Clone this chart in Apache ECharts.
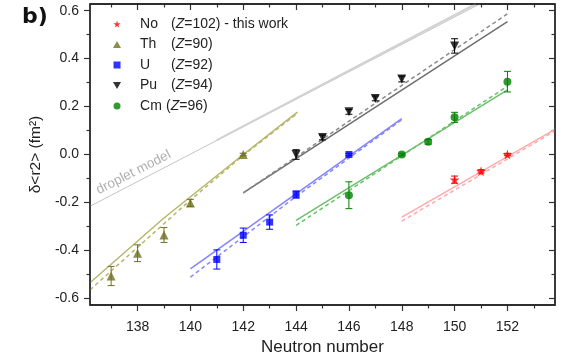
<!DOCTYPE html>
<html>
<head>
<meta charset="utf-8">
<script src="https://cdn.jsdelivr.net/npm/echarts@6/dist/echarts.min.js"></script>
<style>
html, body { margin: 0; padding: 0; background: #fff; }
#chart { width: 575px; height: 364px; }
</style>
</head>
<body>
<div id="chart"></div>
<script>
// axis ranges and tick values
const xMin = 136.2, xMax = 153.8;
const yMin = -0.628, yMax = 0.628;
const xMajor = [138, 140, 142, 144, 146, 148, 150, 152];
const xMinor = [137, 139, 141, 143, 145, 147, 149, 151, 153];
const yMajor = [-0.6, -0.4, -0.2, 0, 0.2, 0.4, 0.6];
const yMinor = [-0.5, -0.3, -0.1, 0.1, 0.3, 0.5];

// measured points (neutron number, delta r2, error)
const noN = [150, 151, 152];
const noV = [-0.105, -0.070, 0.0];
const noErr = [0.015, 0.007, 0.005];

const thN = [137, 138, 139, 140, 142];
const thV = [-0.507, -0.412, -0.336, -0.202, 0.0];
const thErr = [0.04, 0.035, 0.031, 0.015, 0.005];

const uN = [141, 142, 143, 144, 146];
const uV = [-0.438, -0.337, -0.282, -0.167, 0.0];
const uErr = [0.04, 0.03, 0.03, 0.015, 0.005];

const puN = [144, 145, 146, 147, 148, 150];
const puV = [0.0, 0.071, 0.178, 0.234, 0.315, 0.453];
const puErr = [0.02, 0.01, 0.01, 0.01, 0.012, 0.03];

const cmN = [146, 148, 149, 150, 152];
const cmV = [-0.170, 0.0, 0.053, 0.155, 0.304];
const cmErr = [0.056, 0.005, 0.01, 0.021, 0.043];

// model curves: [N, value]
const noSolid = [[148, -0.261], [153.8, 0.105]];
const noDash = [[148, -0.278], [153.8, 0.098]];
const thSolid = [[136.2, -0.535], [139, -0.265], [142, 0.0], [144.05, 0.177]];
const thDash = [[136.2, -0.565], [140, -0.19], [142, -0.004], [144.05, 0.172]];
const uSolid = [[140, -0.477], [148, 0.150]];
const uDash = [[140, -0.512], [144, -0.175], [148, 0.145]];
const puSolid = [[142, -0.160], [152, 0.554]];
const puDash = [[142, -0.160], [152, 0.587]];
const cmSolid = [[144, -0.275], [152, 0.27]];
const cmDash = [[144, -0.296], [152, 0.285]];
const droplet = [[136.2, -0.216], [150.95, 0.628]];
const dropletB = [[141, 0.06], [150.8, 0.628]];

const legendNames = ['No', 'Th', 'U', 'Pu', 'Cm'];
const legendZ = [102, 90, 92, 94, 96];

const font = 'Liberation Sans, Arial, sans-serif';
const starPath = 'path://M50,0 L61,35 L98,35 L68,57 L79,91 L50,70 L21,91 L32,57 L2,35 L39,35 Z';
const upTri = 'path://M50,0 L100,87 L0,87 Z';
const downTri = 'path://M0,0 L100,0 L50,87 Z';
const square = 'path://M0,0 L100,0 L100,100 L0,100 Z';

function pts(name, n, v, color, symbol, size) {
    return {
        name: name,
        type: 'scatter',
        symbol: symbol,
        symbolSize: size,
        itemStyle: { color: color },
        data: n.map((x, i) => [x, v[i]]),
        z: 5
    };
}

function errBars(n, v, err, color) {
    return {
        type: 'custom',
        data: n.map((x, i) => [x, v[i] - err[i], v[i] + err[i]]),
        encode: { x: 0, y: [1, 2] },
        z: 4,
        silent: true,
        renderItem: function (params, api) {
            const lo = api.coord([api.value(0), api.value(1)]);
            const hi = api.coord([api.value(0), api.value(2)]);
            const w = 3.5;
            const st = { stroke: color, lineWidth: 1 };
            return {
                type: 'group',
                children: [
                    { type: 'line', shape: { x1: lo[0], y1: lo[1], x2: hi[0], y2: hi[1] }, style: st },
                    { type: 'line', shape: { x1: lo[0] - w, y1: lo[1], x2: lo[0] + w, y2: lo[1] }, style: st },
                    { type: 'line', shape: { x1: hi[0] - w, y1: hi[1], x2: hi[0] + w, y2: hi[1] }, style: st }
                ]
            };
        }
    };
}

function curve(data, color, dashed, width) {
    return {
        type: 'line',
        data: data,
        showSymbol: false,
        silent: true,
        z: 2,
        lineStyle: { color: color, width: width || 1.5, type: dashed ? [4, 3] : 'solid' }
    };
}

function xAxisDef(pos, values, len, labels) {
    return {
        type: 'value', position: pos, offset: 0, min: xMin, max: xMax,
        axisLine: { show: false, onZero: false },
        axisTick: { show: true, inside: pos === 'top', length: len, customValues: values, lineStyle: { color: '#333', width: 1.2 } },
        axisLabel: labels ? { customValues: values, color: '#222', fontSize: 14, fontFamily: font, margin: 15 } : { show: false },
        splitLine: { show: false }
    };
}

function yAxisDef(pos, values, len, labels) {
    return {
        type: 'value', position: pos, offset: 0, min: yMin, max: yMax,
        axisLine: { show: false, onZero: false },
        axisTick: { show: true, inside: pos === 'right', length: len, customValues: values, lineStyle: { color: '#333', width: 1.2 } },
        axisLabel: labels ? {
            customValues: values, color: '#222', fontSize: 14, fontFamily: font, margin: 11,
            formatter: v => v.toFixed(1)
        } : { show: false },
        splitLine: { show: false }
    };
}

const axBottom = xAxisDef('bottom', xMajor, 6, true);
axBottom.name = 'Neutron number';
axBottom.nameLocation = 'middle';
axBottom.nameGap = 31;
axBottom.nameTextStyle = { fontSize: 17, color: '#222', fontFamily: font };

const axLeft = yAxisDef('left', yMajor, 6, true);
axLeft.name = 'δ<r2> (fm²)';
axLeft.nameLocation = 'middle';
axLeft.nameGap = 46;
axLeft.nameTextStyle = { fontSize: 15.5, color: '#222', fontFamily: font };

// plot frame, taken from the coordinate system's own rect
const frame = {
    type: 'custom',
    data: [[xMin, yMin]],
    encode: { x: 0, y: 1 },
    clip: false,
    silent: true,
    z: 10,
    renderItem: function (params) {
        const cs = params.coordSys;
        return {
            type: 'rect',
            shape: { x: cs.x, y: cs.y, width: cs.width, height: cs.height },
            style: { fill: 'none', stroke: '#222', lineWidth: 1.3 }
        };
    }
};

const chart = echarts.init(document.getElementById('chart'));
chart.setOption({
    animation: false,
    title: {
        text: 'b)', left: 17, top: 1,
        textStyle: { fontSize: 22, fontWeight: 'bold', color: '#111', fontFamily: 'DejaVu Sans' }
    },
    grid: {
        left: 90, right: 20, top: 4, bottom: 59,
        show: true, borderColor: '#222', borderWidth: 1.3
    },
    legend: {
        orient: 'vertical', left: 108, top: 11,
        itemWidth: 36, itemHeight: 7, itemGap: 4.5,
        data: [
            { name: 'No', icon: starPath },
            { name: 'Th', icon: upTri },
            { name: 'U', icon: square },
            { name: 'Pu', icon: downTri },
            { name: 'Cm', icon: 'circle' }
        ],
        formatter: function (name) {
            const i = legendNames.indexOf(name);
            const tail = name === 'No' ? ') - this work' : ')';
            const a = name === 'Cm' ? 'c' : 'a';
            return `{${a}|${name}}{b|(}{i|Z}{b|=${legendZ[i]}${tail}}`;
        },
        textStyle: {
            fontSize: 14, lineHeight: 16, color: '#222', fontFamily: font,
            rich: {
                a: { width: 31, fontSize: 14, fontFamily: font, color: '#222' },
                c: { width: 26, fontSize: 14, fontFamily: font, color: '#222' },
                b: { fontSize: 14, fontFamily: font, color: '#222' },
                i: { fontSize: 14, fontStyle: 'italic', fontFamily: font, color: '#222' }
            }
        }
    },
    xAxis: [
        axBottom,
        xAxisDef('bottom', xMinor, 3.5, false),
        xAxisDef('top', xMajor, 6, false),
        xAxisDef('top', xMinor, 3.5, false)
    ],
    yAxis: [
        axLeft,
        yAxisDef('left', yMinor, 3.5, false),
        yAxisDef('right', yMajor, 6, false),
        yAxisDef('right', yMinor, 3.5, false)
    ],
    series: [
        curve(droplet, '#c4c4c4', false, 1),
        curve(dropletB, '#d2d2d2', false, 2.2),
        {
            type: 'scatter', silent: true, symbolSize: 0,
            data: [[137.85, -0.075]],
            label: {
                show: true, position: 'inside', formatter: 'droplet model', rotate: 27,
                color: '#9a9a9a', fontSize: 13.5, fontFamily: font
            }
        },
        curve(thSolid, '#b6b66a'), curve(thDash, '#b6b66a', true),
        curve(uSolid, '#8484ff'), curve(uDash, '#8484ff', true),
        curve(puSolid, '#6e6e6e'), curve(puDash, '#8a8a8a', true),
        curve(cmSolid, '#6cbf6c'), curve(cmDash, '#6cbf6c', true),
        curve(noSolid, '#ffaaaa'), curve(noDash, '#ffaaaa', true),
        errBars(thN, thV, thErr, '#707020'),
        errBars(uN, uV, uErr, '#0000ff'),
        errBars(puN, puV, puErr, '#000000'),
        errBars(cmN, cmV, cmErr, '#008000'),
        errBars(noN, noV, noErr, '#ff0000'),
        pts('No', noN, noV, '#ff0000', starPath, 10),
        pts('Th', thN, thV, '#707020', upTri, 9),
        pts('U', uN, uV, '#0000ff', square, 7),
        pts('Pu', puN, puV, '#000000', downTri, 9),
        pts('Cm', cmN, cmV, '#008000', 'circle', 8),
        frame
    ]
});
</script>
</body>
</html>
